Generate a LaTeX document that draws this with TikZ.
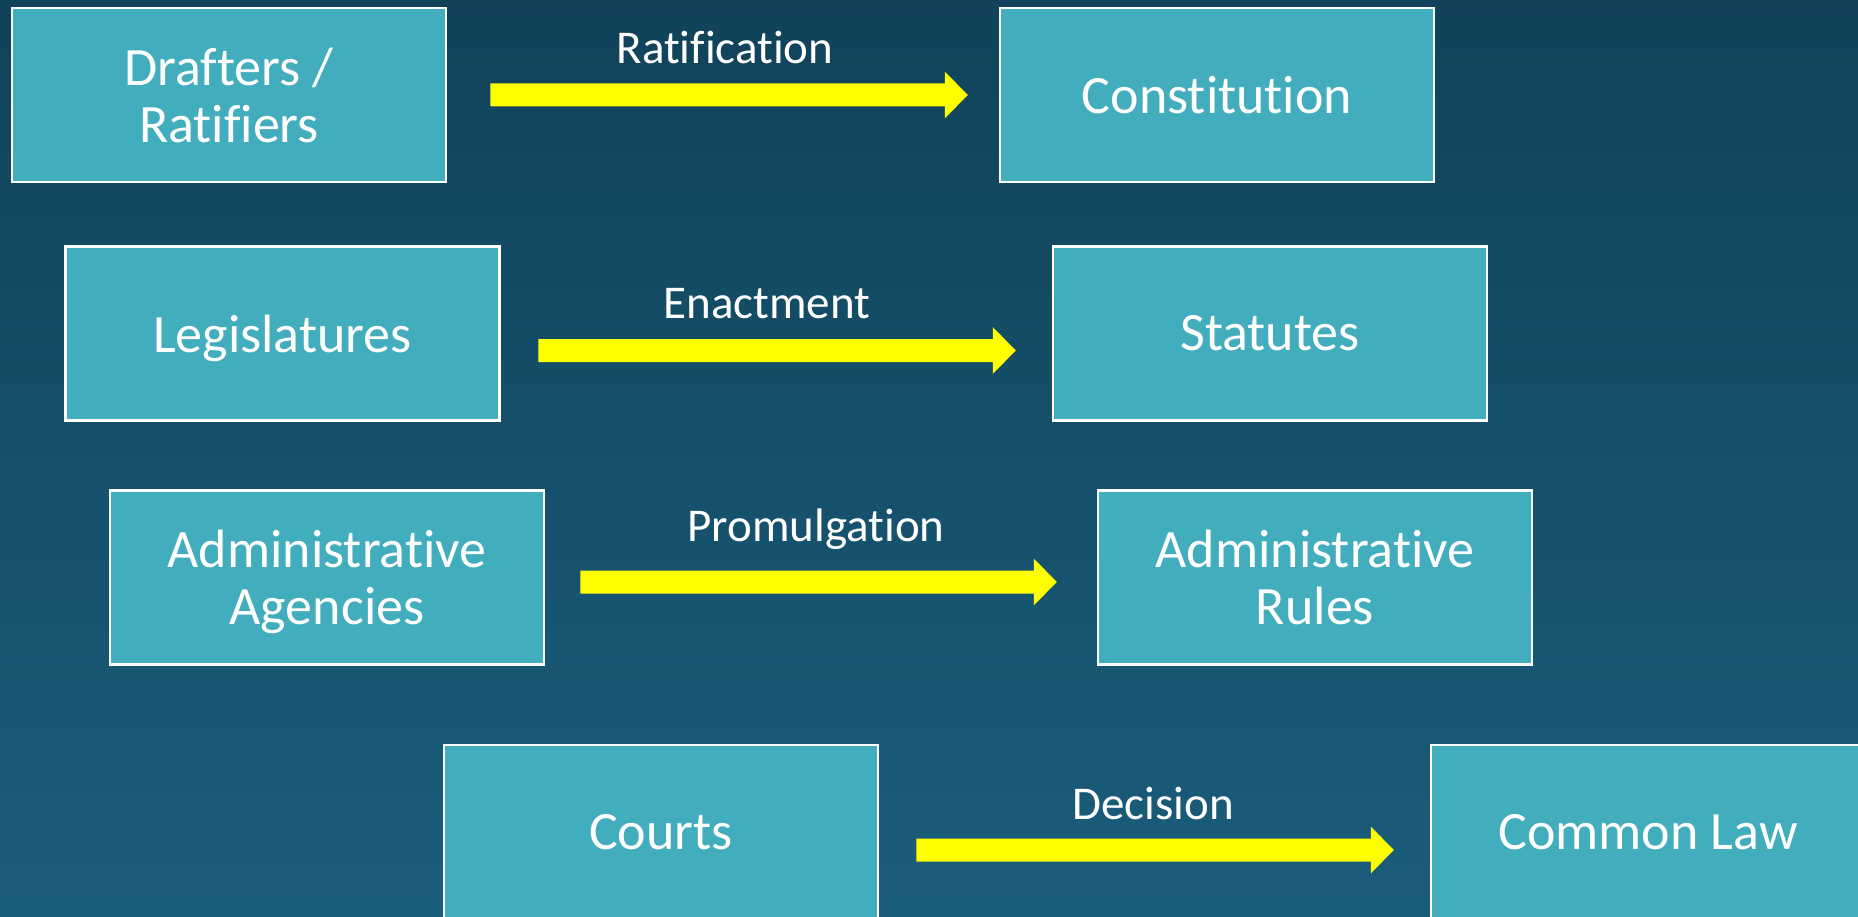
\documentclass[tikz,border=0pt]{standalone}
\usepackage{fontspec}
\setmainfont{Carlito}[Ligatures=NoCommon]
\usetikzlibrary{calc}
\definecolor{bgtop}{HTML}{11425A}
\definecolor{bgbot}{HTML}{1A5D7B}
\definecolor{boxfill}{HTML}{42ADBD}
\definecolor{arrowyellow}{HTML}{FFFF00}
\newcommand\fatarrow[2]{%
  \fill[yarrow] ($(#1)+(0,-11.5)$) -- ($(#2)+(-23,-11.5)$) -- ($(#2)+(-23,-23.5)$) -- (#2)
    -- ($(#2)+(-23,23.5)$) -- ($(#2)+(-23,11.5)$) -- ($(#1)+(0,11.5)$) -- cycle;}
\begin{document}
\begin{tikzpicture}[x=1pt,y=-1pt,
  lawbox/.style={draw=white, line width=2.5pt, fill=boxfill, minimum width=434pt,
    minimum height=174pt, inner sep=0pt, text=white, align=center,
    font=\fontsize{54}{57}\selectfont},
  nodesc/.style={text depth=0pt},
  steplabel/.style={text=white, anchor=base, inner sep=0pt,
    font=\fontsize{47}{50}\selectfont},
  yarrow/.style={fill=arrowyellow}]
\useasboundingbox (0,0) rectangle (1858,917);
\fill[top color=bgtop, bottom color=bgbot] (0,0) rectangle (1858,917);
\clip (0,0) rectangle (1858,917);

\node[lawbox] (drafters) at (229,95) {Drafters /\\Ratifiers};
\node[lawbox] (constitution) at (1217,95) {Constitution};
\node[lawbox, nodesc] (legis) at (282.5,333.5) {Legislatures};
\node[lawbox] (statutes) at (1270,333.5) {Statutes};
\node[lawbox, nodesc] (agencies) at (327,577.5) {Administrative\\Agencies};
\node[lawbox] (rules) at (1315,577.5) {Administrative\\Rules};
\node[lawbox] (courts) at (661,832) {Courts};
\node[lawbox] (commonlaw) at (1648,832) {Common Law};

\coordinate (a1s) at ([xshift=43pt]drafters.east);
\coordinate (a1e) at ([xshift=-31pt]constitution.west);
\coordinate (a2s) at ([xshift=37.5pt,yshift=-17pt]legis.east);
\coordinate (a2e) at ([xshift=-36pt,yshift=-17pt]statutes.west);
\coordinate (a3s) at ([xshift=35pt,yshift=-4.5pt]agencies.east);
\coordinate (a3e) at ([xshift=-40pt,yshift=-4.5pt]rules.west);
\coordinate (a4s) at ([xshift=37pt,yshift=-18pt]courts.east);
\coordinate (a4e) at ([xshift=-36pt,yshift=-18pt]commonlaw.west);

\fatarrow{a1s}{a1e}
\fatarrow{a2s}{a2e}
\fatarrow{a3s}{a3e}
\fatarrow{a4s}{a4e}

\node[steplabel] (l1) at (725,64) {Ratification};
\node[steplabel] (l2) at (767,319) {Enactment};
\node[steplabel] (l3) at (816,541) {Promulgation};
\node[steplabel] (l4) at (1153,819) {Decision};
\end{tikzpicture}
\end{document}
